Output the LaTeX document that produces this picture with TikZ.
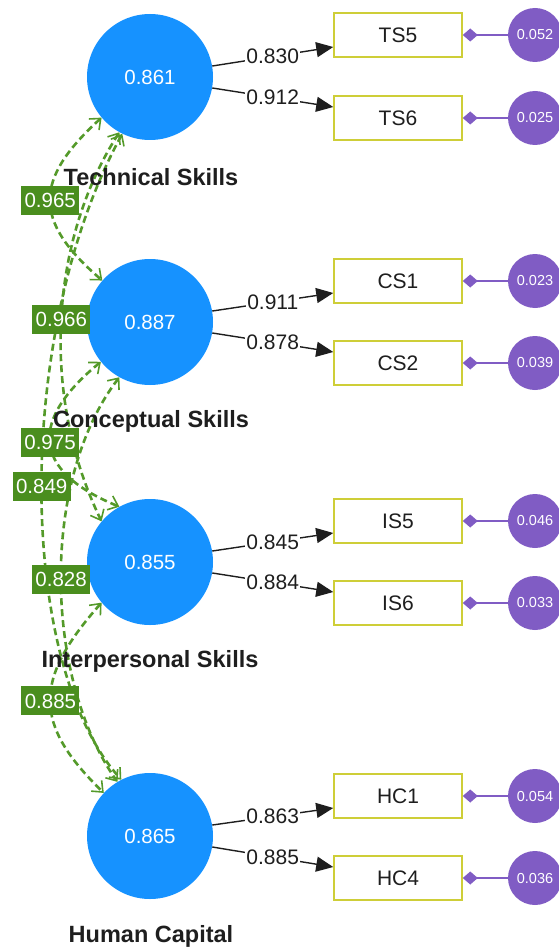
\documentclass[tikz,border=0pt]{standalone}
\usepackage{fontspec}
\setmainfont{Liberation Sans}
\usetikzlibrary{arrows.meta,calc}

\definecolor{latentblue}{RGB}{22,146,255}
\definecolor{indborder}{RGB}{206,206,56}
\definecolor{errpurple}{RGB}{128,92,196}
\definecolor{corrgreen}{RGB}{84,154,42}
\definecolor{corrfill}{RGB}{74,142,30}
\definecolor{inktext}{RGB}{30,30,30}

\pgfdeclarelayer{bg}
\pgfsetlayers{bg,main}

\tikzset{
  latentnode/.style={circle, fill=latentblue, minimum size=126pt, inner sep=0pt,
    text=white, font=\fontsize{20.5}{24}\selectfont},
  indicator/.style={rectangle, draw=indborder, line width=1.5pt, fill=white,
    minimum width=128pt, minimum height=44pt, inner sep=0pt,
    text=inktext, font=\fontsize{21}{24}\selectfont},
  errnode/.style={circle, fill=errpurple, minimum size=54pt, inner sep=0pt,
    text=white, font=\fontsize{14.5}{16}\selectfont},
  loading/.style={draw=inktext, line width=1.4pt, -{Triangle[length=17pt,width=15pt]}},
  loadlabel/.style={fill=white, inner sep=1pt, text=inktext, font=\fontsize{21}{24}\selectfont},
  errlink/.style={draw=errpurple, line width=1.3pt, -{Diamond[length=15pt,width=13pt]}},
  corr/.style={draw=corrgreen, line width=2.6pt, dash pattern=on 7pt off 4pt,
    {Straight Barb[length=9pt,width=15pt,line width=1.6pt]}-{Straight Barb[length=9pt,width=15pt,line width=1.6pt]}},
  corrlabel/.style={fill=corrfill, text=white, inner sep=0pt, minimum width=58pt,
    minimum height=29pt, font=\fontsize{20.5}{24}\selectfont},
  conlabel/.style={text=inktext, font=\bfseries\fontsize{23.5}{26}\selectfont},
}

\begin{document}
\begin{tikzpicture}[x=1pt, y=-1pt]
\useasboundingbox (0,0) rectangle (558,952);

% latent constructs
\node[latentnode] (ts) at (150,77)  {0.861};
\node[latentnode] (cs) at (150,322) {0.887};
\node[latentnode] (is) at (150,562) {0.855};
\node[latentnode] (hc) at (150,836) {0.865};

% indicators
\node[indicator] (ts5) at (398,35)  {TS5};
\node[indicator] (ts6) at (398,118) {TS6};
\node[indicator] (cs1) at (398,281) {CS1};
\node[indicator] (cs2) at (398,363) {CS2};
\node[indicator] (is5) at (398,521) {IS5};
\node[indicator] (is6) at (398,603) {IS6};
\node[indicator] (hc1) at (398,796) {HC1};
\node[indicator] (hc4) at (398,878) {HC4};

% error terms
\node[errnode] (e1) at (535,35)  {0.052};
\node[errnode] (e2) at (535,118) {0.025};
\node[errnode] (e3) at (535,281) {0.023};
\node[errnode] (e4) at (535,363) {0.039};
\node[errnode] (e5) at (535,521) {0.046};
\node[errnode] (e6) at (535,603) {0.033};
\node[errnode] (e7) at (535,796) {0.054};
\node[errnode] (e8) at (535,878) {0.036};

% outer loadings
\draw[loading] (ts.10)  -- node[loadlabel] {0.830} ([yshift=-12pt]ts5.west);
\draw[loading] (ts.-10) -- node[loadlabel] {0.912} ([yshift=11pt]ts6.west);
\draw[loading] (cs.10)  -- node[loadlabel] {0.911} ([yshift=-12pt]cs1.west);
\draw[loading] (cs.-10) -- node[loadlabel] {0.878} ([yshift=11pt]cs2.west);
\draw[loading] (is.10)  -- node[loadlabel] {0.845} ([yshift=-12pt]is5.west);
\draw[loading] (is.-10) -- node[loadlabel] {0.884} ([yshift=11pt]is6.west);
\draw[loading] (hc.10)  -- node[loadlabel] {0.863} ([yshift=-12pt]hc1.west);
\draw[loading] (hc.-10) -- node[loadlabel] {0.885} ([yshift=11pt]hc4.west);

% error links
\foreach \e/\r in {e1/ts5,e2/ts6,e3/cs1,e4/cs2,e5/is5,e6/is6,e7/hc1,e8/hc4}
  \draw[errlink] (\e) -- (\r);

% correlations between constructs
\begin{pgfonlayer}{bg}
\draw[corr] (ts.220) .. controls (33,180) and (33,221) .. (cs.139);
\draw[corr] (ts.241) .. controls (50,240) and (40,395) .. (is.140);
\draw[corr] (ts.244) .. controls (15,330) and (15,662) .. (hc.117);
\draw[corr] (cs.219) .. controls (30,420) and (30,470) .. (is.119);
\draw[corr] (cs.241) .. controls (40,480) and (44,678) .. (hc.121);
\draw[corr] (is.220) .. controls (33,680) and (33,724) .. (hc.137);
\end{pgfonlayer}

% correlation values
\path (ts.220) .. controls (33,180) and (33,221) .. node[corrlabel] {0.965} (cs.139);
\path (ts.241) .. controls (50,240) and (40,395) .. node[corrlabel] {0.966} (is.140);
\path (ts.244) .. controls (15,330) and (15,662) .. node[corrlabel] {0.849} (hc.117);
\path (cs.219) .. controls (30,420) and (30,470) .. node[corrlabel] {0.975} (is.119);
\path (cs.241) .. controls (40,480) and (44,678) .. node[corrlabel] {0.828} (hc.121);
\path (is.220) .. controls (33,680) and (33,724) .. node[corrlabel] {0.885} (hc.137);

% construct names
\node[conlabel] (tsname) at (151,177) {Technical Skills};
\node[conlabel] (csname) at (151,421) {Conceptual Skills};
\node[conlabel] (isname) at (150,661) {Interpersonal Skills};
\node[conlabel] (hcname) at (151,936) {Human Capital};
\end{tikzpicture}
\end{document}
